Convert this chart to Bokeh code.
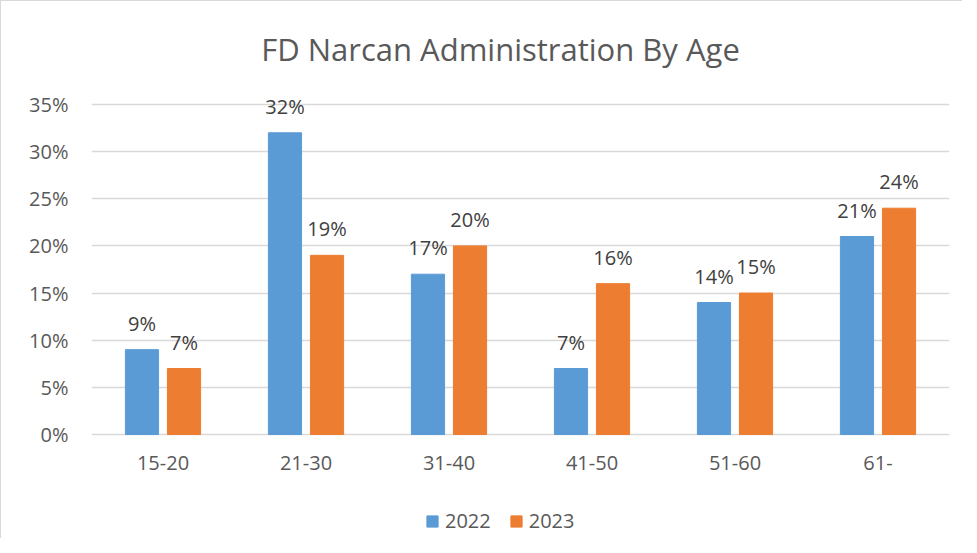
from bokeh.plotting import figure
from bokeh.models import (ColumnDataSource, FactorRange, FixedTicker, PrintfTickFormatter,
                          Legend, LegendItem, LabelSet, Label)
from bokeh.core.properties import value
from bokeh.transform import dodge
from bokeh.embed import file_html
from bokeh.resources import INLINE

categories = ["15-20", "21-30", "31-40", "41-50", "51-60", "61-"]
values_2022 = [9, 32, 17, 7, 14, 21]
values_2023 = [7, 19, 20, 16, 15, 24]
y_ticks = [0, 5, 10, 15, 20, 25, 30, 35]
title_text = "FD Narcan Administration By Age"

FONT = "Open Sans"
GRAY = "#595959"
BLUE = "#5B9BD5"
ORANGE = "#ED7D31"

src = ColumnDataSource(dict(
    cat=categories,
    v22=values_2022,
    v23=values_2023,
    l22=[f"{v}%" for v in values_2022],
    l23=[f"{v}%" for v in values_2023],
))

# frame spans the full height: 35% gridline at ~103px, 0% at ~433px (330px for 35 units)
PPU = 330 / 35
TOP = 103
ZERO = 433
p = figure(x_range=FactorRange(*categories),
           y_range=(-(537 - ZERO) / PPU, 35 + TOP / PPU),
           width=961, height=537, frame_width=858, frame_height=537,
           output_backend="svg", toolbar_location=None,
           min_border_left=90, min_border_right=13, min_border_top=0, min_border_bottom=0,
           styles={"border-left": "1px solid #D9D9D9", "border-top": "1px solid #D9D9D9"})
p.outline_line_color = None
p.background_fill_color = "white"
p.border_fill_color = "white"

off = 0.147
w = 0.232
r22 = p.vbar(x=dodge("cat", -off, range=p.x_range), top="v22", width=w, source=src,
             fill_color=BLUE, line_color=BLUE)
r23 = p.vbar(x=dodge("cat", off, range=p.x_range), top="v23", width=w, source=src,
             fill_color=ORANGE, line_color=ORANGE)

for col, lab, o in (("v22", "l22", -off), ("v23", "l23", off)):
    ls = LabelSet(x=dodge("cat", o, range=p.x_range), y=col,
                  text=lab, source=src, text_align="center", text_baseline="bottom",
                  y_offset=13, text_font=value(FONT), text_font_size=value("20px"),
                  text_color="#404040")
    p.add_layout(ls)

p.add_layout(Label(x=2.86, y=35 + (TOP - 47) / PPU, text=title_text, text_align="center",
                   text_baseline="middle", text_font=FONT, text_font_size="31px",
                   text_color=GRAY))

p.yaxis.ticker = FixedTicker(ticks=y_ticks)
p.yaxis.formatter = PrintfTickFormatter(format="%d%%")
p.xaxis.fixed_location = 0
for ax in (p.xaxis[0], p.yaxis[0]):
    ax.axis_line_color = None
    ax.major_tick_line_color = None
    ax.minor_tick_line_color = None
    ax.major_tick_in = 0
    ax.major_tick_out = 0
    ax.major_label_text_font = FONT
    ax.major_label_text_font_size = "20px"
    ax.major_label_text_color = GRAY
p.yaxis.major_label_standoff = 23
p.xaxis.major_label_standoff = 21
p.xgrid.grid_line_color = None
p.ygrid.grid_line_color = "#D9D9D9"
p.ygrid.grid_line_width = 1.5

legend = Legend(items=[LegendItem(label="2022", renderers=[r22]),
                       LegendItem(label="2023", renderers=[r23])],
                orientation="horizontal", location=(334, 4),
                label_text_font=FONT, label_text_font_size="20px", label_text_color=GRAY,
                glyph_width=14, glyph_height=14, spacing=18, label_standoff=6,
                padding=0, margin=0,
                border_line_color=None, background_fill_alpha=0)
p.add_layout(legend, "center")

open("out.html", "w").write(file_html(p, INLINE))
